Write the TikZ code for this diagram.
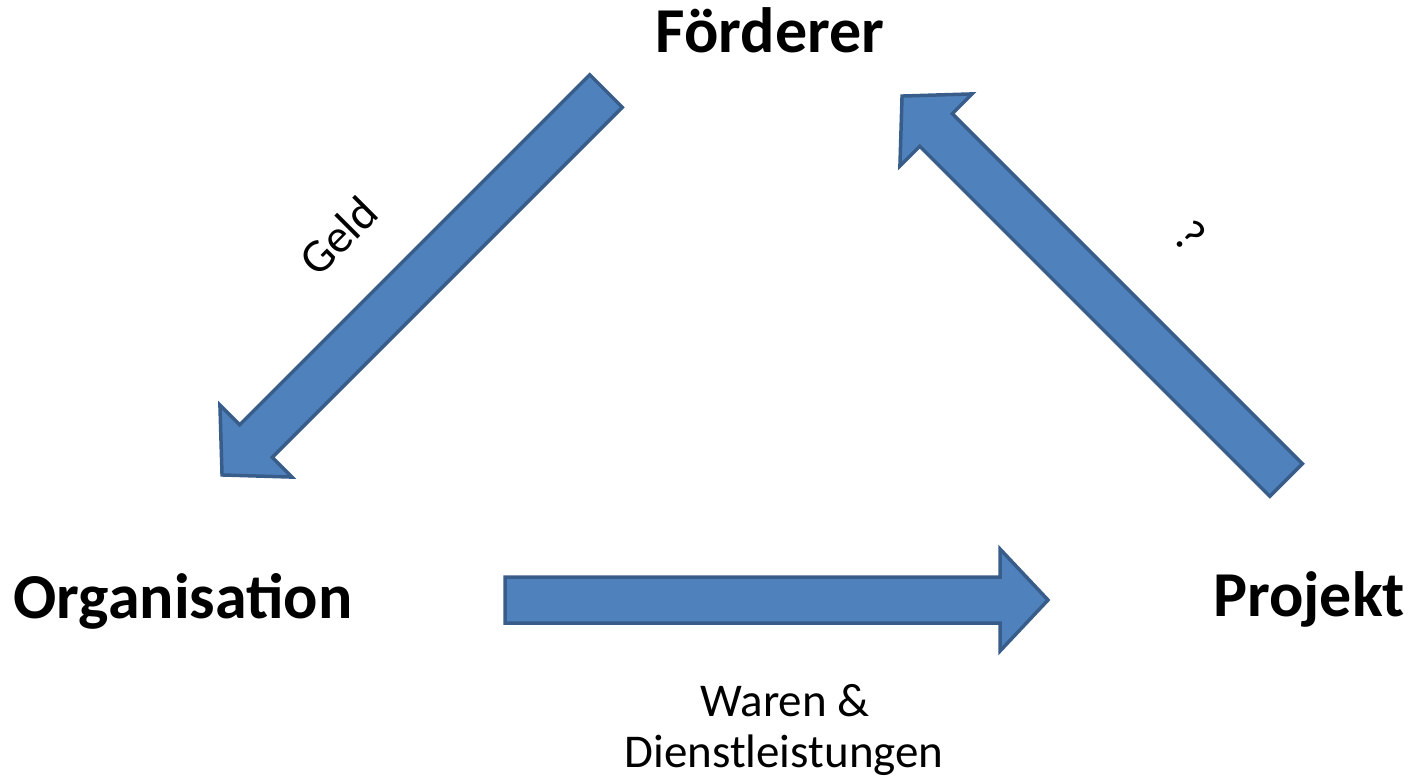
\documentclass[tikz,border=0pt]{standalone}
\usepackage{fontspec}
\setmainfont{Carlito}
\definecolor{arrowfill}{HTML}{4F81BD}
\definecolor{arrowline}{HTML}{385D8A}
\tikzset{
  blockarrow/.style={fill=arrowfill,draw=arrowline,line width=3.5pt,line join=miter},
  party/.style={font=\fontsize{64}{66}\selectfont\bfseries,inner sep=0pt,anchor=base},
  flowlabel/.style={font=\fontsize{47}{50}\selectfont,inner sep=0pt}
}
\newcommand{\arrowshape}{(0,-23) -- (495,-23) -- (495,-51) -- (543,0) -- (495,51) -- (495,23) -- (0,23) -- cycle}
\begin{document}
\begin{tikzpicture}[x=1pt,y=-1pt]
\useasboundingbox (0,0) rectangle (1413,782);
% block arrows
\begin{scope}[shift={(606,91)},rotate=225]
  \draw[blockarrow] \arrowshape;
\end{scope}
\begin{scope}[shift={(505,600)}]
  \draw[blockarrow] \arrowshape;
\end{scope}
\begin{scope}[shift={(1286,480)},rotate=135]
  \draw[blockarrow] \arrowshape;
\end{scope}
% parties
\node[party] (foerderer) at (770,52) {Förderer};
\node[party] (organisation) at (183,618) {Organisation};
\node[party] (projekt) at (1309,616) {Projekt};
% labels
\node[flowlabel,rotate=45] (geld) at (338,236) {Geld};
\node[flowlabel,rotate=-45] (frage) at (1190,236) {?};
\node[flowlabel,anchor=base] (waren) at (785,716) {Waren \&};
\node[flowlabel,anchor=base] (dienst) at (784,767) {Dienstleistungen};
\end{tikzpicture}
\end{document}
